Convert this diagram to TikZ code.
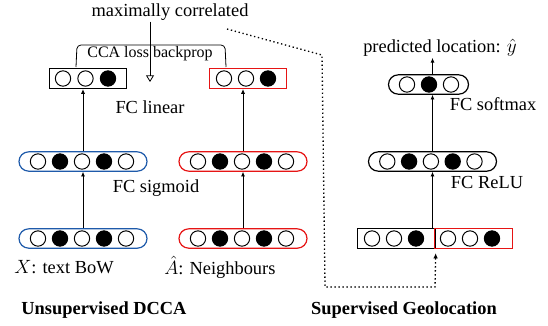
\documentclass[tikz,border=0pt]{standalone}
\usepackage{amsmath}
\usepackage{fontspec}
\setmainfont{Liberation Serif}
\usetikzlibrary{arrows.meta,shapes.misc}

\definecolor{viewblue}{RGB}{30,90,170}
\definecolor{viewred}{RGB}{230,20,20}

\tikzset{
  neuron/.style={circle,draw,line width=0.75pt,minimum size=11.5pt,inner sep=0pt},
  layer/.style={rounded rectangle,draw,line width=0.9pt,minimum width=96pt,minimum height=14.5pt,inner sep=0pt},
  smalllayer/.style={layer,minimum width=60pt},
  outbox/.style={rectangle,draw,line width=0.9pt,minimum width=58pt,minimum height=15pt,inner sep=0pt},
  label/.style={inner sep=0.75pt,font=\fontsize{13.8}{16}\selectfont},
  feed/.style={-{Latex[length=3.5pt,width=3pt]},line width=0.6pt},
}

\begin{document}
\begin{tikzpicture}[x=0.75pt,y=0.75pt,yscale=-1,xscale=1]
\useasboundingbox (0,0) rectangle (548,325);

% Layers: unsupervised DCCA, text view
\node[layer,draw=viewblue] (xin) at (83,238.5) {};
\node[layer,draw=viewblue] (xhid) at (83,161.5) {};
\node[outbox] (xout) at (88,78.5) {};
% Layers: unsupervised DCCA, network view
\node[layer,draw=viewred] (ain) at (243,238.5) {};
\node[layer,draw=viewred] (ahid) at (243,161.5) {};
\node[outbox,draw=viewred] (aout) at (248,78.5) {};
% Layers: supervised geolocation
\node[outbox] (catl) at (396.5,238.5) {};
\node[outbox,draw=viewred] (catr) at (473.5,238.5) {};
\node[layer] (relu) at (432.5,161.5) {};
\node[smalllayer] (soft) at (428.5,84.5) {};

% Neurons
\foreach \i/\f in {1/white,2/black,3/white,4/black,5/white}{
  \node[neuron,fill=\f] (xin-\i) at (16+22*\i,238.5) {};
  \node[neuron,fill=\f] (xhid-\i) at (16+22*\i,161.5) {};
  \node[neuron,fill=\f] (ain-\i) at (176+22*\i,238.5) {};
  \node[neuron,fill=\f] (ahid-\i) at (176+22*\i,161.5) {};
  \node[neuron,fill=\f] (relu-\i) at (365.5+21.8*\i,161.5) {};
}
\foreach \i/\f in {1/white,2/white,3/black}{
  \node[neuron,fill=\f] (xout-\i) at (63+22.5*\i-22.5,78.5) {};
  \node[neuron,fill=\f] (aout-\i) at (224+22*\i-22,78.5) {};
  \node[neuron,fill=\f] (catl-\i) at (372+22*\i-22,238.5) {};
  \node[neuron,fill=\f] (catr-\i) at (448+22*\i-22,238.5) {};
}
\foreach \i/\f in {1/white,2/black,3/white}{
  \node[neuron,fill=\f] (soft-\i) at (407+22*\i-22,84.5) {};
}

% Text Node
\node[label] (corr) at (170,12) {maximally correlated};
% Text Node
\node[label,font=\fontsize{12}{14}\selectfont] (cca) at (150,54) {CCA loss backprop};
% Text Node
\node[label] (fclin) at (150,107) {FC linear};
% Text Node
\node[label] (fcsig) at (156,188) {FC sigmoid};
% Text Node
\node[label,anchor=west] (xlab) at (13,267) {$X$: text BoW};
% Text Node
\node[label,anchor=west] (alab) at (163,267) {$\hat{A}$: Neighbours};
% Text Node
\node[label,font=\fontsize{13.8}{16}\selectfont\bfseries] (dcca) at (104,310) {Unsupervised DCCA};
% Text Node
\node[label] (pred) at (440,48) {predicted location: $\hat{y}$};
% Text Node
\node[label] (fcsoft) at (493,104) {FC softmax};
% Text Node
\node[label] (fcrelu) at (487,182) {FC ReLU};
% Text Node
\node[label,font=\fontsize{13.8}{16}\selectfont\bfseries] (geo) at (404,310) {Supervised Geolocation};

% Feed-forward arrows
\draw[feed] (xin) -- (xhid);
\draw[feed] (xhid) -- (xhid.north |- xout.south);
\draw[feed] (ain) -- (ahid);
\draw[feed] (ahid) -- (ahid.north |- aout.south);
\draw[feed] (relu.south |- catl.north) -- (relu.south);
\draw[feed] (relu.north) -- (relu.north |- soft.south);
\draw[feed] (relu.north |- soft.north) -- (relu.north |- pred.south);

% CCA bracket and objective
\coordinate (brl) at (76,67);
\coordinate (brr) at (226,67);
\draw[line width=0.6pt,rounded corners=3pt] (brl) -- (77,45) -- (225,45) -- (brr);
\coordinate (corrtip) at (150,82);
\draw[line width=0.75pt,-{Triangle[open,length=5pt,width=6pt,line width=0.6pt]}] (corr.south -| corrtip) -- (corrtip);

% Dotted link from DCCA output to concatenated input
\coordinate (dotstart) at (227,29);
\draw[dotted,line width=1pt,-{Latex[length=4pt,width=3.5pt]},shorten >=3pt] (dotstart) -- (322,55) -- (325,287) -- (435,287) -- (catl.south east);

\end{tikzpicture}
\end{document}
